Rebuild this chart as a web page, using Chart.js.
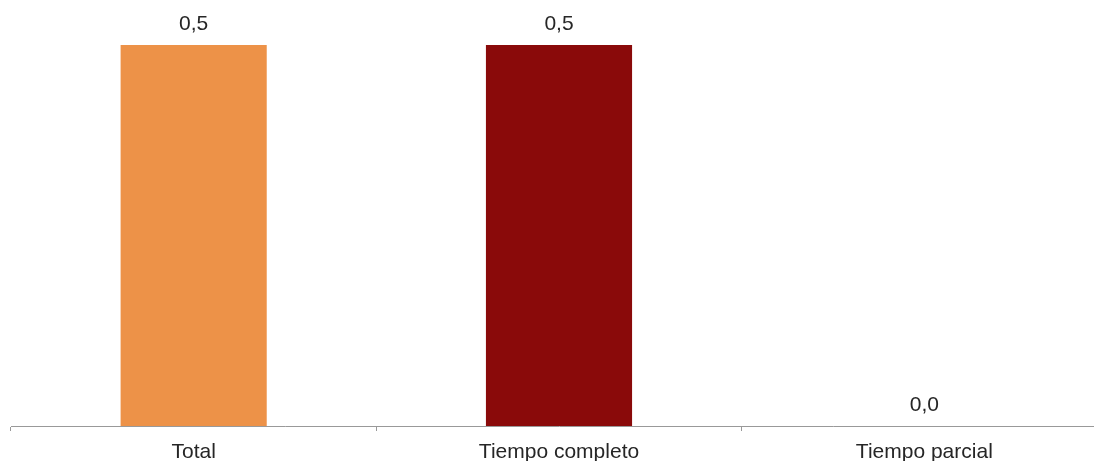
<!DOCTYPE html>
<html>
<head>
<meta charset="utf-8">
<script src="https://cdn.jsdelivr.net/npm/chart.js@4.4.0/dist/chart.umd.min.js"></script>
<style>
html,body{margin:0;padding:0;background:#fff;overflow:hidden;}
#wrap{width:1094px;height:461px;overflow:hidden;position:relative;}
canvas{display:block;}
</style>
</head>
<body>
<div id="wrap"><canvas id="c" width="1107" height="461"></canvas></div>
<script>
const categories = ["Total", "Tiempo completo", "Tiempo parcial"];
const values = [0.5, 0.5, 0.0];
const valueLabels = ["0,5", "0,5", "0,0"];
const barColors = ["#ED9248", "#8A0A0A", "#8A0A0A"];

const FONT = "'Liberation Sans', Arial, sans-serif";

const labelPlugin = {
  id: 'valueLabels',
  afterDatasetsDraw(chart) {
    const ctx = chart.ctx;
    const meta = chart.getDatasetMeta(0);
    ctx.save();
    ctx.font = "21px " + FONT;
    ctx.fillStyle = "#262626";
    ctx.textAlign = "center";
    ctx.textBaseline = "alphabetic";
    meta.data.forEach((bar, i) => {
      ctx.fillText(valueLabels[i], bar.x, bar.y - 15);
    });
    ctx.restore();
  }
};

new Chart(document.getElementById('c'), {
  type: 'bar',
  data: {
    labels: categories,
    datasets: [{
      data: values,
      backgroundColor: barColors,
      borderWidth: 0,
      barPercentage: 0.4,
      categoryPercentage: 1.0
    }]
  },
  options: {
    responsive: false,
    animation: false,
    layout: { padding: { top: 45, left: 11, right: 0, bottom: 0 } },
    plugins: { legend: { display: false }, tooltip: { enabled: false } },
    scales: {
      x: {
        offset: true,
        grid: { offset: true, drawOnChartArea: false, drawTicks: true, tickLength: 5, color: "#999999", lineWidth: 1 },
        border: { display: true, color: "#999999", width: 1 },
        ticks: { color: "#262626", font: { family: FONT, size: 21 }, padding: 9, maxRotation: 0, autoSkip: false },
        afterFit: s => { s.height = 35; }
      },
      y: {
        display: false,
        min: 0,
        max: 0.5
      }
    }
  },
  plugins: [labelPlugin]
});
</script>
</body>
</html>
